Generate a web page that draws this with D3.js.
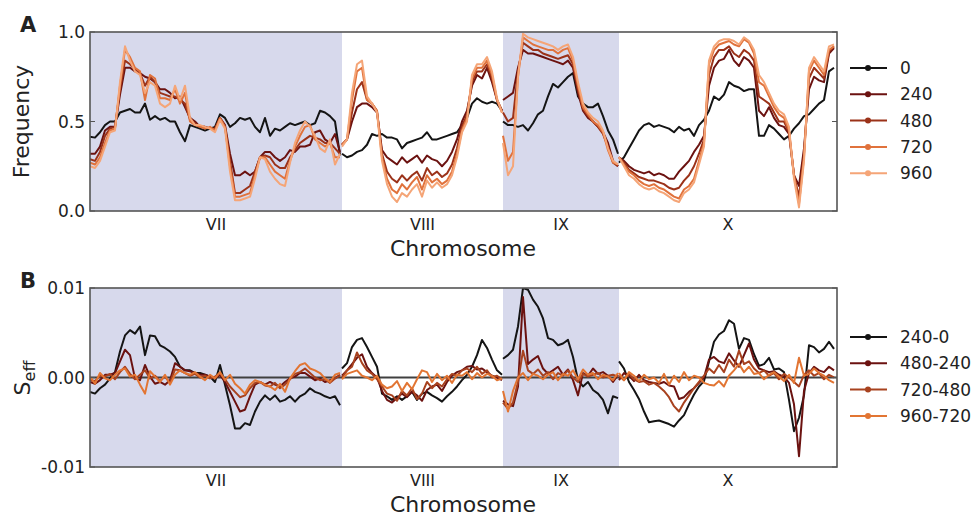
<!DOCTYPE html>
<html>
<head>
<meta charset="utf-8">
<script src="https://cdnjs.cloudflare.com/ajax/libs/d3/7.8.5/d3.min.js"></script>
<style>
  body { margin: 0; background: #fff; }
  text { font-family: "DejaVu Sans", sans-serif; fill: #222; }
</style>
</head>
<body>
<div id="plot"></div>
<script>
// chromosome layout (genome position units), samples every 5 units
const chromNames = ["VII", "VIII", "IX", "X"];
const chromStart = [0, 252, 413, 529];
const chromEnd = [252, 413, 529, 747];
const shaded = ["VII", "IX"];
const sampleStep = 5;

// panel A: allele frequency per generation, one sub-array per chromosome
const freqGenerations = ["0", "240", "480", "720", "960"];
const freq0 = [
  [0.415,0.41,0.44,0.48,0.5,0.5,0.55,0.56,0.57,0.55,0.55,0.6,0.51,0.53,0.51,0.52,0.5,0.5,0.44,0.39,0.48,0.47,0.46,0.45,0.46,0.47,0.54,0.52,0.47,0.49,0.52,0.51,0.52,0.47,0.44,0.52,0.42,0.46,0.45,0.47,0.49,0.48,0.49,0.5,0.48,0.49,0.56,0.55,0.53,0.5,0.31],
  [0.32,0.3,0.31,0.33,0.34,0.37,0.43,0.42,0.43,0.41,0.41,0.4,0.35,0.38,0.39,0.4,0.41,0.44,0.4,0.4,0.41,0.42,0.43,0.44,0.48,0.52,0.6,0.63,0.61,0.6,0.61,0.6,0.56],
  [0.5,0.48,0.48,0.47,0.48,0.45,0.49,0.54,0.56,0.64,0.71,0.69,0.72,0.75,0.77,0.64,0.6,0.58,0.58,0.6,0.53,0.45,0.4,0.32],
  [0.27,0.3,0.35,0.4,0.45,0.48,0.49,0.47,0.48,0.47,0.46,0.44,0.47,0.45,0.46,0.42,0.48,0.51,0.56,0.64,0.62,0.65,0.72,0.7,0.69,0.67,0.68,0.68,0.42,0.42,0.48,0.46,0.43,0.4,0.42,0.46,0.49,0.53,0.54,0.57,0.6,0.62,0.78,0.8]
];
const freq240 = [
  [0.32,0.32,0.36,0.45,0.47,0.47,0.65,0.8,0.8,0.78,0.77,0.75,0.74,0.72,0.68,0.68,0.66,0.63,0.64,0.58,0.52,0.5,0.47,0.47,0.46,0.46,0.52,0.48,0.32,0.2,0.2,0.22,0.2,0.22,0.3,0.33,0.33,0.3,0.28,0.3,0.34,0.33,0.36,0.36,0.37,0.44,0.45,0.4,0.38,0.43,0.33],
  [0.37,0.4,0.5,0.58,0.6,0.6,0.58,0.55,0.34,0.3,0.28,0.26,0.3,0.27,0.29,0.31,0.27,0.31,0.29,0.28,0.25,0.28,0.33,0.4,0.5,0.56,0.7,0.76,0.74,0.8,0.72,0.62,0.56],
  [0.62,0.64,0.66,0.8,0.9,0.88,0.88,0.87,0.86,0.85,0.84,0.83,0.82,0.84,0.8,0.66,0.56,0.52,0.5,0.47,0.44,0.38,0.28,0.25],
  [0.3,0.28,0.25,0.23,0.22,0.21,0.22,0.2,0.21,0.2,0.18,0.18,0.22,0.25,0.28,0.33,0.37,0.42,0.7,0.8,0.84,0.85,0.9,0.84,0.81,0.86,0.84,0.8,0.56,0.53,0.58,0.52,0.48,0.47,0.43,0.2,0.14,0.35,0.68,0.75,0.73,0.72,0.88,0.91]
];
const freq480 = [
  [0.29,0.28,0.33,0.42,0.46,0.47,0.68,0.84,0.82,0.79,0.77,0.7,0.75,0.72,0.66,0.65,0.64,0.64,0.62,0.6,0.51,0.49,0.47,0.47,0.46,0.46,0.52,0.47,0.28,0.1,0.1,0.12,0.14,0.22,0.3,0.31,0.3,0.26,0.24,0.24,0.3,0.34,0.38,0.4,0.42,0.41,0.4,0.38,0.38,0.35,0.32],
  [0.37,0.4,0.55,0.68,0.72,0.62,0.6,0.56,0.32,0.22,0.18,0.16,0.2,0.17,0.2,0.22,0.17,0.24,0.2,0.22,0.19,0.21,0.26,0.35,0.47,0.54,0.72,0.78,0.78,0.82,0.74,0.62,0.56],
  [0.55,0.5,0.52,0.78,0.94,0.92,0.9,0.9,0.88,0.87,0.86,0.85,0.86,0.87,0.82,0.68,0.57,0.53,0.5,0.47,0.43,0.36,0.27,0.25],
  [0.3,0.27,0.23,0.21,0.19,0.18,0.17,0.17,0.16,0.15,0.13,0.12,0.13,0.17,0.2,0.25,0.32,0.4,0.76,0.86,0.9,0.9,0.92,0.88,0.86,0.9,0.88,0.84,0.64,0.62,0.6,0.55,0.5,0.5,0.44,0.2,0.08,0.32,0.74,0.8,0.77,0.74,0.89,0.92]
];
const freq720 = [
  [0.27,0.26,0.3,0.38,0.45,0.46,0.7,0.9,0.86,0.8,0.78,0.62,0.76,0.74,0.63,0.63,0.62,0.68,0.6,0.66,0.5,0.48,0.47,0.46,0.47,0.45,0.52,0.47,0.25,0.08,0.08,0.09,0.1,0.2,0.3,0.3,0.26,0.22,0.2,0.18,0.28,0.36,0.42,0.47,0.48,0.4,0.38,0.36,0.38,0.3,0.3],
  [0.37,0.4,0.62,0.78,0.8,0.62,0.6,0.56,0.3,0.18,0.12,0.1,0.15,0.12,0.16,0.19,0.12,0.2,0.16,0.18,0.15,0.17,0.22,0.32,0.45,0.52,0.74,0.8,0.8,0.84,0.76,0.62,0.55],
  [0.42,0.28,0.33,0.75,0.97,0.95,0.93,0.92,0.91,0.9,0.9,0.88,0.9,0.91,0.84,0.7,0.58,0.54,0.5,0.48,0.44,0.34,0.27,0.26],
  [0.3,0.26,0.22,0.2,0.17,0.15,0.14,0.15,0.13,0.12,0.1,0.08,0.07,0.12,0.14,0.18,0.28,0.38,0.82,0.9,0.93,0.94,0.95,0.93,0.92,0.96,0.94,0.88,0.72,0.7,0.64,0.58,0.54,0.52,0.45,0.2,0.04,0.3,0.78,0.84,0.8,0.76,0.9,0.92]
];
const freq960 = [
  [0.25,0.24,0.28,0.36,0.44,0.45,0.72,0.92,0.84,0.78,0.76,0.66,0.72,0.7,0.6,0.58,0.6,0.7,0.62,0.7,0.52,0.48,0.48,0.47,0.46,0.44,0.51,0.46,0.22,0.06,0.06,0.07,0.08,0.18,0.3,0.29,0.22,0.18,0.15,0.14,0.27,0.38,0.45,0.5,0.47,0.42,0.35,0.33,0.4,0.26,0.32],
  [0.36,0.4,0.66,0.82,0.84,0.64,0.6,0.55,0.28,0.15,0.08,0.05,0.1,0.08,0.12,0.15,0.08,0.17,0.13,0.16,0.13,0.15,0.2,0.3,0.44,0.5,0.76,0.82,0.82,0.86,0.78,0.63,0.55],
  [0.38,0.2,0.25,0.75,0.99,0.97,0.96,0.95,0.94,0.93,0.92,0.9,0.92,0.93,0.86,0.72,0.6,0.55,0.52,0.5,0.45,0.35,0.28,0.26],
  [0.3,0.25,0.2,0.18,0.15,0.13,0.12,0.13,0.11,0.1,0.08,0.06,0.05,0.1,0.12,0.16,0.26,0.36,0.84,0.92,0.95,0.96,0.96,0.95,0.93,0.97,0.95,0.9,0.76,0.72,0.66,0.6,0.56,0.54,0.47,0.18,0.02,0.28,0.8,0.86,0.82,0.78,0.92,0.93]
];

// panel B: s_eff between generations, values in units of 0.001
const seffIntervals = ["240-0", "480-240", "720-480", "960-720"];
const seff240_0 = [
  [-1.6,-1.8,-1.2,-0.8,-0.1,0.6,2.9,4.7,5.3,4.9,5.7,2.5,4.7,4.6,3.6,3.3,2.9,2.3,1.2,0.8,0.8,0.5,0.5,0.3,0.1,-0.5,1.4,-0.8,-3.1,-5.7,-5.7,-5.1,-5.3,-3.8,-2.7,-2.0,-2.5,-2.0,-2.7,-2.5,-2.1,-2.7,-2.1,-1.8,-1.2,-1.6,-1.8,-2.1,-2.3,-2.1,-3.1],
  [1.0,1.6,3.4,4.2,4.4,3.4,2.3,1.2,-1.8,-2.1,-2.5,-2.1,-2.5,-2.1,-1.6,-2.5,-1.8,-1.6,-2.0,-2.3,-2.7,-2.1,-1.6,-1.0,-0.3,0.3,1.2,2.5,4.2,3.3,2.0,0.8,0.3],
  [2.1,2.5,3.1,5.7,10,9.8,8.7,7.9,6.6,4.4,4.2,3.6,3.8,4.2,2.3,-0.3,-1.0,-0.5,-1.4,-1.8,-2.5,-4.0,-2.1,-2.3],
  [1.8,1.0,-0.5,-1.4,-2.4,-3.8,-5.0,-4.9,-4.8,-5.0,-5.2,-5.5,-4.8,-4.2,-3.0,-1.9,-1.0,-0.4,1.8,4.0,4.8,5.2,6.4,6.0,3.2,4.4,4.2,2.6,1.3,1.5,2.2,0.9,1.0,0.6,-2.5,-6.0,-4.5,-2.0,3.6,3.4,2.8,3.2,4.0,3.2]
];
const seff480_240 = [
  [-0.5,-0.7,-0.3,0.3,0.3,0.5,1.8,3.1,2.5,-0.1,-0.3,1.4,0.1,-0.7,-0.5,-0.8,-0.3,1.6,1.2,0.8,0.7,0.5,0.3,0.3,0.1,-0.1,0.3,-0.5,-1.6,-2.7,-3.8,-3.6,-2.1,-0.8,-0.5,-0.8,-0.5,-0.8,-1.0,-0.5,-0.1,0.1,0.5,0.5,0.1,-0.3,-0.1,-0.5,-0.3,-0.1,0.3],
  [0.2,0.8,1.5,2.2,2.6,1.2,0.5,0.0,-1.5,-2.5,-2.8,-2.3,-1.8,-2.2,-1.6,-2.0,-2.6,-1.4,-1.0,-0.8,-1.5,-0.5,0.2,0.6,0.8,1.2,1.3,0.9,1.0,0.6,0.2,0.0,-0.3],
  [-2.6,-3.0,-3.2,-1.0,9.0,1.5,2.0,2.4,1.0,0.4,0.8,1.2,0.3,0.9,-0.3,-2.0,0.5,0.2,1.0,0.4,0.6,0.2,-0.5,0.3],
  [-0.3,0.5,0.2,-0.4,0.3,-0.3,-0.5,-0.6,-0.7,-0.5,-0.9,-1.0,-2.4,-2.2,-1.6,-1.2,-0.6,0.0,2.0,2.3,1.8,1.6,2.7,1.9,1.2,2.5,3.8,2.0,1.0,0.8,0.6,0.7,0.3,0.1,-0.6,-3.0,-8.8,-1.5,0.5,1.2,0.8,0.6,1.2,0.8]
];
const seff720_480 = [
  [-0.3,-0.4,0.2,0.1,0.4,-0.2,0.6,1.2,0.4,-0.2,0.3,0.8,-0.1,0.2,-0.4,0.1,-0.6,0.9,0.8,0.5,0.2,0.4,0.0,0.2,-0.1,0.1,0.5,-0.2,-1.0,-1.6,-2.2,-2.0,-1.2,-0.6,-0.5,-0.9,-1.0,-0.6,-1.2,-0.8,-0.2,0.4,0.6,1.0,0.5,0.0,-0.3,-0.2,-0.6,-0.1,0.2],
  [0.0,0.8,1.2,2.8,1.6,0.8,0.4,-0.2,-1.0,-1.8,-2.0,-2.6,-1.5,-2.0,-1.2,-2.4,-1.8,-0.5,-1.2,-0.6,-1.0,-0.2,0.4,0.2,0.8,1.0,0.6,1.2,0.4,0.8,0.0,0.2,-0.2],
  [-2.8,-3.5,-2.8,-0.5,3.0,0.8,0.4,0.9,0.2,0.6,-0.2,0.5,0.2,0.8,0.0,-0.5,0.4,0.1,0.3,0.5,0.0,0.2,0.3,0.1],
  [0.2,-0.3,0.4,-0.2,-0.5,-0.4,-0.8,-0.6,-1.0,-1.5,-2.2,-3.2,-3.8,-2.8,-2.0,-1.2,-0.5,0.2,1.0,0.5,1.4,0.6,2.0,1.2,3.0,1.5,1.8,1.0,0.5,0.8,0.2,0.5,-0.2,0.4,0.0,-0.5,-1.0,0.3,0.8,0.2,0.5,-0.2,0.3,0.0]
];
const seff960_720 = [
  [0.1,-0.7,0.5,-0.1,-0.3,0.3,0.8,1.0,0.1,0.3,-0.8,-1.8,0.7,0.1,-0.5,0.3,-0.8,0.3,0.8,0.5,0.3,0.6,0.1,-0.3,0.3,-0.1,0.6,-0.3,0.3,-0.7,-1.2,-1.8,-0.8,-0.3,-0.5,-0.8,-1.0,-1.4,-0.7,-1.6,-0.1,0.7,1.4,1.6,1.0,0.8,0.5,-0.1,-0.5,0.3,0.5],
  [-0.2,0.4,0.6,0.8,0.2,0.0,-0.3,0.2,-0.8,-1.2,-1.0,-0.4,-1.5,-0.6,-1.3,-0.2,0.8,0.6,-0.5,0.4,-0.3,0.2,-0.6,0.3,0.2,0.6,-0.2,0.5,0.0,0.4,0.2,-0.3,-0.1],
  [-1.5,-3.8,-1.5,0.0,0.5,-0.3,0.4,0.2,-0.2,0.3,0.6,-0.3,0.4,0.2,0.8,-0.2,0.9,0.3,0.5,-0.2,0.3,0.1,-0.3,0.5],
  [0.5,-0.3,0.6,0.2,-0.4,0.3,-0.2,0.0,-0.6,0.4,-0.8,0.2,-0.5,0.6,-0.3,0.2,0.0,-0.6,-0.8,-0.9,-0.4,-1.0,0.2,0.8,1.5,0.6,1.2,0.4,0.5,-0.2,0.3,0.6,0.1,-0.4,0.3,-0.6,2.2,0.2,0.4,1.0,0.5,0.2,-0.3,-0.6]
];

const freqTicks = [0, 0.5, 1.0];
const freqTickLabels = ["0.0", "0.5", "1.0"];
const seffTicks = [-10, 0, 10];
const seffTickLabels = ["-0.01", "0.00", "0.01"];

const freqColors = ["#141414", "#6b1210", "#9b3219", "#e0723c", "#f5a577"];
const seffColors = ["#141414", "#6b1210", "#a8421f", "#e27533"];

const width = 976, height = 517;
const svg = d3.select("#plot").append("svg")
  .attr("width", width).attr("height", height);

const x = d3.scaleLinear().domain([0, 747]).range([90, 837]);

// one segment of points per chromosome, so lines break between chromosomes
function toPoints(series) {
  return series.map((vals, c) => vals.map((v, i) => ({ x: chromStart[c] + i * sampleStep, y: v })));
}

function drawPanel(opts) {
  const { id, y, series, colors, ticks, tickLabels, zeroLine } = opts;
  const [bottom, top] = y.range();
  const g = svg.append("g");

  g.append("clipPath").attr("id", "clip-" + id)
    .append("rect").attr("x", 90).attr("y", top).attr("width", 747).attr("height", bottom - top);

  // chromosome shading
  chromNames.forEach((name, c) => {
    if (shaded.includes(name)) {
      g.append("rect")
        .attr("x", x(chromStart[c])).attr("y", top)
        .attr("width", x(chromEnd[c]) - x(chromStart[c]))
        .attr("height", bottom - top)
        .attr("fill", "#d7d9ec");
    }
  });

  const plot = g.append("g").attr("clip-path", `url(#clip-${id})`);

  if (zeroLine) {
    plot.append("line")
      .attr("x1", 90).attr("x2", 837)
      .attr("y1", y(0)).attr("y2", y(0))
      .attr("stroke", "#404040").attr("stroke-width", 1.8);
  }

  const line = d3.line().x(d => x(d.x)).y(d => y(d.y));
  series.forEach((s, k) => {
    toPoints(s).forEach(seg => {
      plot.append("path")
        .datum(seg)
        .attr("fill", "none")
        .attr("stroke", colors[k])
        .attr("stroke-width", 2)
        .attr("stroke-linejoin", "round")
        .attr("d", line);
    });
  });

  // frame
  g.append("rect")
    .attr("x", 90).attr("y", top).attr("width", 747).attr("height", bottom - top)
    .attr("fill", "none").attr("stroke", "#555").attr("stroke-width", 1.6);

  // y ticks (inward, both sides) and labels
  ticks.forEach((t, i) => {
    g.append("line").attr("x1", 90).attr("x2", 95).attr("y1", y(t)).attr("y2", y(t))
      .attr("stroke", "#555").attr("stroke-width", 1);
    g.append("line").attr("x1", 832).attr("x2", 837).attr("y1", y(t)).attr("y2", y(t))
      .attr("stroke", "#555").attr("stroke-width", 1);
    g.append("text")
      .attr("x", 85).attr("y", y(t))
      .attr("text-anchor", "end").attr("dominant-baseline", "central")
      .attr("font-size", 17)
      .text(tickLabels[i]);
  });

  // chromosome names
  chromNames.forEach((name, c) => {
    g.append("text")
      .attr("x", x((chromStart[c] + chromEnd[c]) / 2))
      .attr("y", bottom + 19)
      .attr("text-anchor", "middle")
      .attr("font-size", 16)
      .text(name);
  });

  g.append("text")
    .attr("x", 463).attr("y", bottom + 45)
    .attr("text-anchor", "middle")
    .attr("font-size", 22)
    .text("Chromosome");

  // legend
  opts.legend.forEach((lab, k) => {
    const ly = opts.legendTop + k * opts.legendStep;
    g.append("line").attr("x1", 850).attr("x2", 887).attr("y1", ly).attr("y2", ly)
      .attr("stroke", colors[k]).attr("stroke-width", 2);
    g.append("circle").attr("cx", 868).attr("cy", ly).attr("r", 3).attr("fill", colors[k]);
    g.append("text").attr("x", 900).attr("y", ly)
      .attr("dominant-baseline", "central").attr("font-size", 17)
      .text(lab);
  });

  // panel letter
  g.append("text")
    .attr("x", 20).attr("y", top)
    .attr("font-size", 21).attr("font-weight", "bold")
    .attr("fill", "#111")
    .text(id);

  return g;
}

const yA = d3.scaleLinear().domain([0, 1]).range([211, 32]);
const gA = drawPanel({
  id: "A", y: yA,
  series: [freq0, freq240, freq480, freq720, freq960],
  colors: freqColors, ticks: freqTicks, tickLabels: freqTickLabels,
  legend: freqGenerations, legendTop: 68, legendStep: 26.3, zeroLine: false
});
gA.append("text")
  .attr("transform", `translate(29,${(yA(0) + yA(1)) / 2}) rotate(-90)`)
  .attr("text-anchor", "middle")
  .attr("font-size", 22)
  .text("Frequency");

const yB = d3.scaleLinear().domain([-10, 10]).range([467, 288]);
const gB = drawPanel({
  id: "B", y: yB,
  series: [seff240_0, seff480_240, seff720_480, seff960_720],
  colors: seffColors, ticks: seffTicks, tickLabels: seffTickLabels,
  legend: seffIntervals, legendTop: 337, legendStep: 26.3, zeroLine: true
});
const seffLabel = gB.append("text")
  .attr("transform", `translate(30,378) rotate(-90)`)
  .attr("text-anchor", "middle")
  .attr("font-size", 22);
seffLabel.append("tspan").text("S");
seffLabel.append("tspan").attr("font-size", 16).attr("dy", 5).text("eff");
</script>
</body>
</html>
